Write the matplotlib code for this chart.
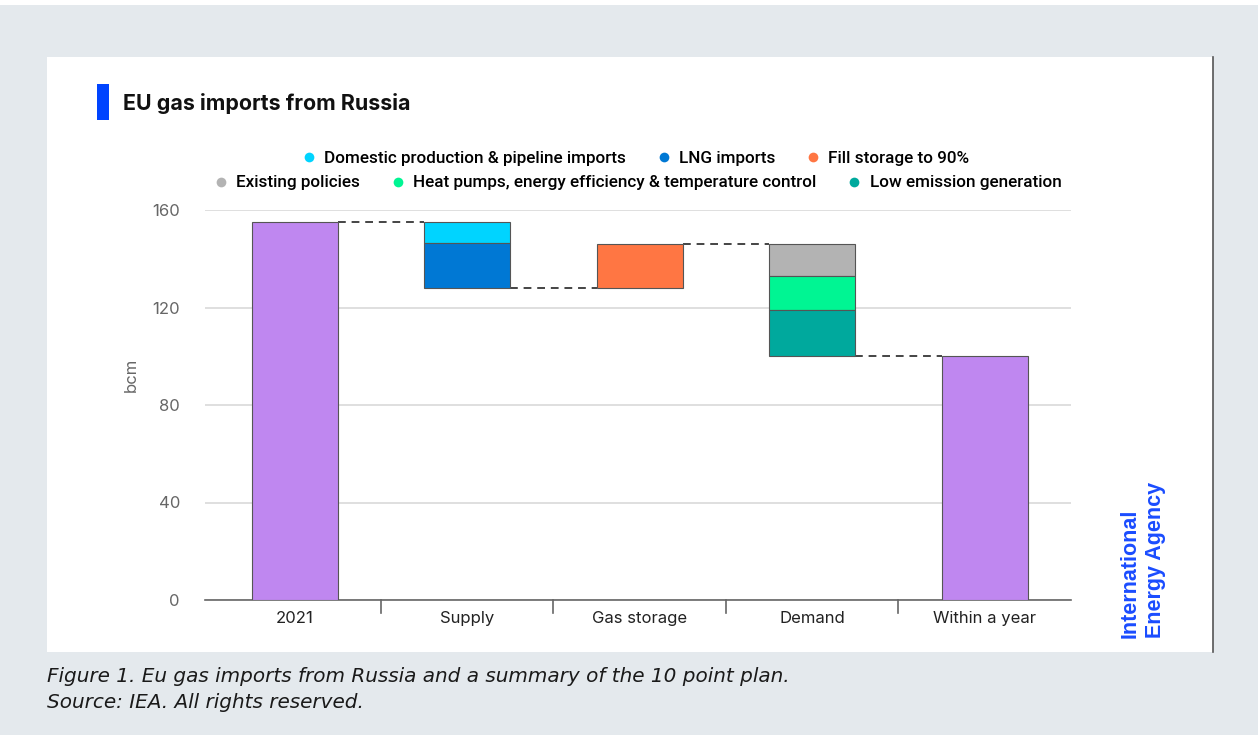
import matplotlib
matplotlib.use("Agg")
import matplotlib.pyplot as plt
from matplotlib.patches import Rectangle
from matplotlib.lines import Line2D
import numpy as np

# ---- data ----
categories = ["2021", "Supply", "Gas storage", "Demand", "Within a year"]
start_2021 = 155
supply_labels = ["Domestic production & pipeline imports", "LNG imports"]
supply_values = [8.5, 18.5]          # reductions
storage_labels = ["Fill storage to 90%"]
storage_values = [18]                # increase
demand_labels = ["Existing policies", "Heat pumps, energy efficiency & temperature control",
                 "Low emission generation"]
demand_values = [13, 14, 19]         # reductions
end_value = 100
y_ticks = [0, 40, 80, 120, 160]

colors = {
    "total": "#bf87f0",
    "Domestic production & pipeline imports": "#00d4ff",
    "LNG imports": "#0078d4",
    "Fill storage to 90%": "#ff7643",
    "Existing policies": "#b3b3b3",
    "Heat pumps, energy efficiency & temperature control": "#00f593",
    "Low emission generation": "#00a99d",
}

W, H = 1258, 735
fig = plt.figure(figsize=(W / 100, H / 100), dpi=100)
fig.patch.set_facecolor("#e4e9ed")

def fx(px): return px / W
def fy(py): return 1 - py / H

# white panel
fig.patches.append(Rectangle((fx(47), fy(652)), fx(1213) - fx(47), fy(57) - fy(652),
                             transform=fig.transFigure, facecolor="white", edgecolor="none", zorder=-10))
fig.patches.append(Rectangle((0, fy(5)), 1, 1 - fy(5), transform=fig.transFigure,
                             facecolor="white", edgecolor="none", zorder=-10))
fig.lines.append(Line2D([fx(1213), fx(1213)], [fy(57), fy(652)], transform=fig.transFigure,
                        color="#555555", lw=1.2, zorder=-5))

# title
fig.patches.append(Rectangle((fx(97), fy(120)), fx(109) - fx(97), fy(84) - fy(120),
                             transform=fig.transFigure, facecolor="#0044ff", edgecolor="none", zorder=2))
fig.text(fx(123), fy(104), "EU gas imports from Russia", fontsize=15.4, fontweight="bold",
         family="Inter", va="center", ha="left", color="#111111")

# axes
ax_left, ax_right, ax_top, ax_bottom = 205, 1071, 210, 600
ax = fig.add_axes([fx(ax_left), fy(ax_bottom), fx(ax_right) - fx(ax_left), fy(ax_top) - fy(ax_bottom)])
ax.set_xlim(-0.52, 4.5)
ax.set_ylim(0, 160)
ax.set_facecolor("none")
for s in ["top", "right", "left"]:
    ax.spines[s].set_visible(False)
ax.spines["bottom"].set_color("#666666")
ax.spines["bottom"].set_linewidth(1.2)
ax.set_yticks(y_ticks)
ax.set_yticklabels([str(v) for v in y_ticks], fontsize=12, color="#666666", family="Inter")
ax.tick_params(axis="y", length=0, pad=18)
ax.grid(axis="y", color="#d9d9d9", lw=1.2)
ax.set_axisbelow(True)
ax.set_xticks(range(len(categories)))
ax.set_xticklabels(categories, fontsize=12, color="#222222", family="Inter")
ax.tick_params(axis="x", length=0, pad=8)
for b in [0.5, 1.5, 2.5, 3.5]:
    ax.plot([b, b], [0, -5.5], color="#666666", lw=1.2, clip_on=False)
ax.set_ylabel("bcm", fontsize=12, color="#666666", family="Inter")
ax.yaxis.set_label_coords((139 - ax_left) / (ax_right - ax_left),
                          (ax_bottom - 375) / (ax_bottom - ax_top))

bw = 0.5
edge = dict(edgecolor="#555555", linewidth=0.8)
# 2021
ax.bar(0, start_2021, width=bw, color=colors["total"], **edge, zorder=3)
# supply
top = start_2021
for lab, v in zip(supply_labels, supply_values):
    ax.bar(1, v, bottom=top - v, width=bw, color=colors[lab], **edge, zorder=3)
    top -= v
after_supply = top
# storage
for lab, v in zip(storage_labels, storage_values):
    ax.bar(2, v, bottom=top, width=bw, color=colors[lab], **edge, zorder=3)
    top += v
after_storage = top
# demand
for lab, v in zip(demand_labels, demand_values):
    ax.bar(3, v, bottom=top - v, width=bw, color=colors[lab], **edge, zorder=3)
    top -= v
# final
ax.bar(4, end_value, width=bw, color=colors["total"], **edge, zorder=3)

# connectors
levels = [start_2021, after_supply, after_storage, end_value]
for i, lv in enumerate(levels):
    ax.plot([i + bw / 2, i + 1 - bw / 2], [lv, lv], color="#444444", lw=1.4,
            ls=(0, (4, 3)), zorder=2)

# legends
def handles(labels):
    return [Line2D([], [], marker="o", ls="none", markersize=7, markerfacecolor=colors[l],
                   markeredgecolor="none") for l in labels]

row1 = supply_labels + storage_labels
row2 = demand_labels
leg_kw = dict(frameon=False, handletextpad=0.4, columnspacing=1.7, handlelength=1.0,
              prop=dict(family="Roboto", weight="medium", size=12.3), borderaxespad=0)
l1 = fig.legend(handles(row1), row1, ncol=3, loc="center", bbox_to_anchor=(fx(635), fy(158)), **leg_kw)
l2 = fig.legend(handles(row2), row2, ncol=3, loc="center", bbox_to_anchor=(fx(637), fy(183)), **leg_kw)

# IEA logo
fig.text(fx(1130), fy(638), "International", rotation=90, fontsize=15.5, fontweight="bold",
         color="#1a4cff", family="Liberation Sans", ha="center", va="bottom")
fig.text(fx(1155), fy(638), "Energy Agency", rotation=90, fontsize=15.5, fontweight="bold",
         color="#1a4cff", family="Liberation Sans", ha="center", va="bottom")

# caption
fig.text(fx(47), fy(677), "Figure 1. Eu gas imports from Russia and a summary of the 10 point plan.",
         fontsize=14.4, style="italic", color="#1a1a1a", family="DejaVu Sans", va="center", ha="left")
fig.text(fx(47), fy(703), "Source: IEA. All rights reserved.",
         fontsize=14.4, style="italic", color="#1a1a1a", family="DejaVu Sans", va="center", ha="left")

fig.savefig("out.png", dpi=100, facecolor=fig.get_facecolor())
